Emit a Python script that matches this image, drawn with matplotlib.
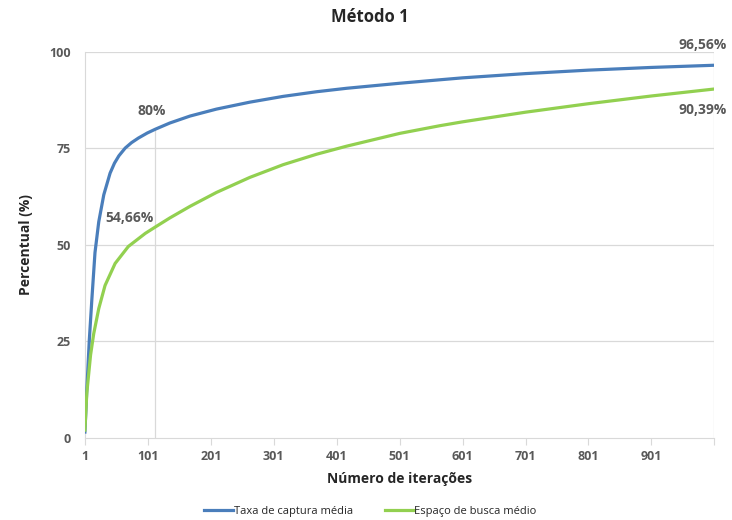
import matplotlib
matplotlib.use("Agg")
import matplotlib.pyplot as plt

plt.rcParams['font.family'] = ['Open Sans', 'DejaVu Sans']

# iteration number -> average capture rate (%)
it_taxa = [1, 4, 8, 12, 17, 23, 31, 41, 48, 55, 65, 75, 86, 100, 113, 136, 168,
           210, 263, 316, 369, 417, 501, 565, 601, 701, 801, 901, 1000]
taxa = [1.5, 12.4, 25.4, 35.8, 48, 56, 63, 68.6, 71.2, 73.1, 75.1, 76.5, 77.7,
        79.0, 80, 81.6, 83.4, 85.2, 87.0, 88.5, 89.7, 90.6, 91.9, 92.8, 93.3,
        94.4, 95.3, 96.0, 96.56]

# iteration number -> average search space (%)
it_espaco = [1, 4, 10, 15, 23, 33, 49, 70, 97, 113, 136, 168, 210, 263, 316,
             369, 417, 501, 565, 601, 701, 801, 901, 1000]
espaco = [2, 11.6, 21.5, 27, 33.5, 39.5, 45.2, 49.6, 53.0, 54.66, 57.0, 60.0,
          63.6, 67.5, 70.8, 73.5, 75.6, 78.9, 80.9, 81.9, 84.4, 86.6, 88.6, 90.39]

x_ticks = [1, 101, 201, 301, 401, 501, 601, 701, 801, 901]
y_ticks = [0, 25, 50, 75, 100]

blue = '#4a7ebb'
green = '#92d050'
grid = '#d9d9d9'
txt = '#595959'

fig = plt.figure(figsize=(7.32, 5.2), dpi=100)
ax = fig.add_axes([0.116, 0.158, 0.859, 0.742])

for y in y_ticks[1:]:
    ax.axhline(y, color=grid, lw=0.9, zorder=0)
ax.axvline(1000, color=grid, lw=0.9, zorder=0)
ax.vlines(113, 0, 80, color=grid, lw=0.9, zorder=0)

ax.plot(it_taxa, taxa, color=blue, lw=2.3, label='Taxa de captura média', zorder=3)
ax.plot(it_espaco, espaco, color=green, lw=2.3, label='Espaço de busca médio', zorder=3)

ax.set_xlim(1, 1000)
ax.set_ylim(0, 100)
ax.set_xticks(x_ticks + [1000])
ax.set_xticklabels([str(v) for v in x_ticks] + [''])
ax.set_yticks(y_ticks)
for s in ['top', 'right']:
    ax.spines[s].set_visible(False)
ax.spines['left'].set_color(grid)
ax.spines['bottom'].set_color(grid)
ax.tick_params(axis='x', length=5, color=grid, pad=4)
ax.tick_params(axis='y', length=0, pad=10)
for lab in ax.get_xticklabels() + ax.get_yticklabels():
    lab.set_fontsize(9)
    lab.set_fontweight('bold')
    lab.set_color(txt)

lab_kw = dict(fontsize=10, fontweight='bold', color=txt, va='center', clip_on=False)
ax.text(107, 84.7, '80%', ha='center', **lab_kw)
ax.text(72, 57, '54,66%', ha='center', **lab_kw)
ax.text(1021, 101.8, '96,56%', ha='right', **lab_kw)
ax.text(1021, 85, '90,39%', ha='right', **lab_kw)

fig.text(0.505, 0.967, 'Método 1', fontsize=12, fontweight='bold', color='#262626',
         ha='center', va='center')
ax.set_xlabel('Número de iterações', fontsize=10, fontweight='bold', color='#262626',
              labelpad=6)
ax.set_ylabel('Percentual (%)', fontsize=10, fontweight='bold', color='#262626',
              labelpad=12)

leg = fig.legend(loc='center', bbox_to_anchor=(0.506, 0.016), ncol=2, frameon=False,
                 fontsize=8, handlelength=2.6, handletextpad=0.05, columnspacing=2.9)
for t in leg.get_texts():
    t.set_color('#262626')

fig.savefig('out.png', dpi=100)
